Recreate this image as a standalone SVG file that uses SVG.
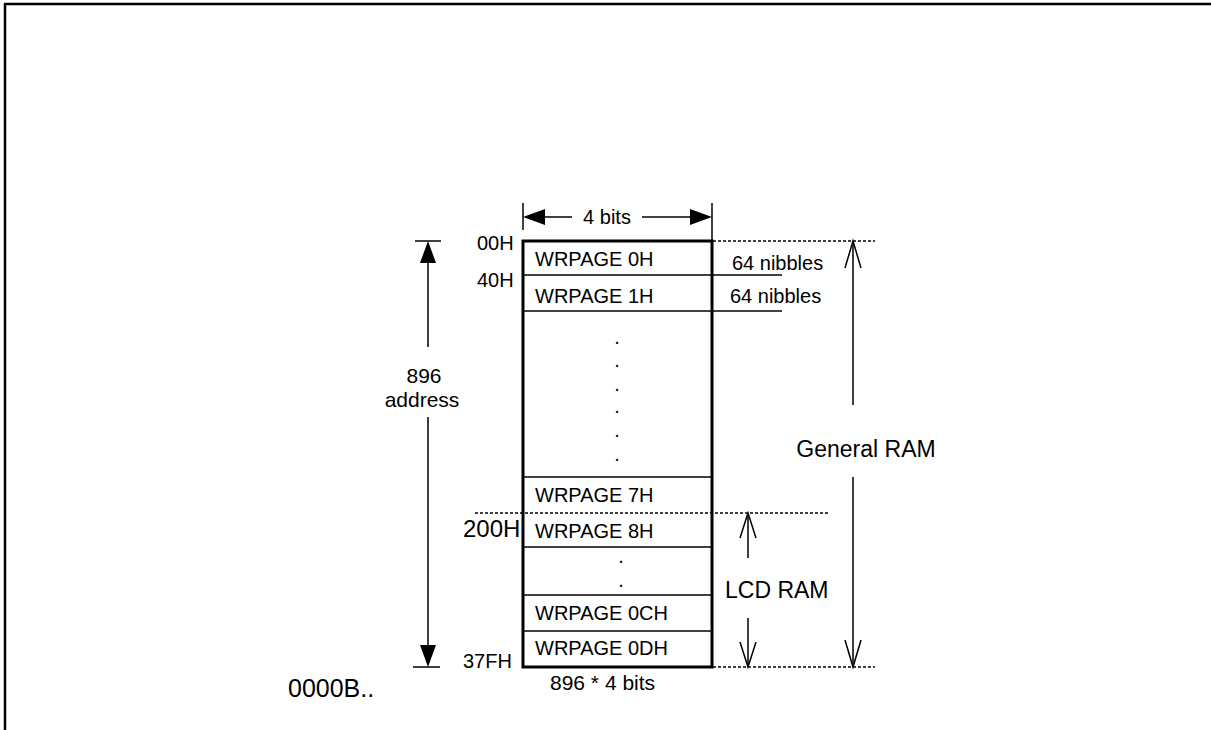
<svg xmlns="http://www.w3.org/2000/svg" width="1211" height="730" viewBox="0 0 1211 730">
<style>
text{font-family:"Liberation Sans",Arial,sans-serif;fill:#000}
.s{stroke:#000;fill:none;stroke-width:1.5}
.d{stroke:#000;fill:none;stroke-width:1.5;stroke-dasharray:3,2}
.f{fill:#000;stroke:none}
.t20{font-size:20px}
.t23{font-size:23px}
.dot{font-size:20px;text-anchor:middle}
</style>
<rect width="1211" height="730" fill="#fff"/>
<g id="frame">
<line x1="4" y1="4" x2="1211" y2="4" stroke="#000" stroke-width="2.5"/>
<line x1="5" y1="3" x2="5" y2="730" stroke="#000" stroke-width="2.5"/>
</g>
<g id="memory">
<rect x="523" y="241" width="189" height="426" fill="none" stroke="#000" stroke-width="3"/>
<line class="s" x1="523" y1="275" x2="782" y2="275"/>
<line class="s" x1="523" y1="311" x2="782" y2="311"/>
<line class="s" x1="523" y1="477" x2="712" y2="477"/>
<line class="s" x1="523" y1="547" x2="712" y2="547"/>
<line class="s" x1="523" y1="595" x2="712" y2="595"/>
<line class="s" x1="523" y1="631" x2="712" y2="631"/>
<text class="t20" x="535" y="266">WRPAGE 0H</text>
<text class="t20" x="535" y="303">WRPAGE 1H</text>
<text class="t20" x="535" y="502">WRPAGE 7H</text>
<text class="t20" x="535" y="538">WRPAGE 8H</text>
<text class="t20" x="535" y="620">WRPAGE 0CH</text>
<text class="t20" x="535" y="655">WRPAGE 0DH</text>
<text class="dot" x="617" y="344">.</text>
<text class="dot" x="617" y="367">.</text>
<text class="dot" x="617" y="391">.</text>
<text class="dot" x="617" y="413">.</text>
<text class="dot" x="617" y="437">.</text>
<text class="dot" x="617" y="461">.</text>
<text class="dot" x="621" y="563">.</text>
<text class="dot" x="621" y="587">.</text>
</g>
<g id="addresses">
<text class="t20" x="477" y="250">00H</text>
<text class="t20" x="477" y="287">40H</text>
<text x="463" y="537" font-size="24px">200H</text>
<text class="t20" x="463" y="668">37FH</text>
</g>
<g id="labels">
<text class="t20" x="732" y="270">64 nibbles</text>
<text class="t20" x="730" y="303">64 nibbles</text>
<text class="t23" x="866" y="457" text-anchor="middle">General RAM</text>
<text class="t23" x="725" y="598">LCD RAM</text>
<text x="424" y="383" font-size="21px" text-anchor="middle">896</text>
<text x="422" y="407" font-size="21px" text-anchor="middle">address</text>
<text x="550" y="690" font-size="21px">896 * 4 bits</text>
<text x="288" y="697" font-size="25px">0000B..</text>
<text class="t20" x="607" y="224" text-anchor="middle">4 bits</text>
</g>
<g id="connectors">
<line class="d" x1="713" y1="241" x2="875" y2="241"/>
<line class="d" x1="713" y1="667" x2="875" y2="667"/>
<line class="d" x1="475" y1="513" x2="830" y2="513"/>
<line class="s" x1="523" y1="203" x2="523" y2="230"/>
<line class="s" x1="712" y1="203" x2="712" y2="241"/>
<polygon class="f" points="523,217 545,209 545,225"/>
<polygon class="f" points="712,217 690,209 690,225"/>
<line class="s" x1="545" y1="217" x2="572" y2="217"/>
<line class="s" x1="642" y1="217" x2="690" y2="217"/>
<line class="s" x1="415" y1="241" x2="441" y2="241"/>
<polygon class="f" points="428,241 420,263 436,263"/>
<line class="s" x1="428" y1="263" x2="428" y2="347"/>
<line class="s" x1="428" y1="417" x2="428" y2="645"/>
<polygon class="f" points="428,667 420,645 436,645"/>
<line class="s" x1="413" y1="667" x2="440" y2="667"/>
<line class="s" x1="853" y1="241" x2="853" y2="405"/>
<line class="s" x1="853" y1="477" x2="853" y2="667"/>
<polyline class="s" points="845,268 853,241 861,268"/>
<polyline class="s" points="845,640 853,667 861,640"/>
<line class="s" x1="748" y1="513" x2="748" y2="558"/>
<line class="s" x1="748" y1="618" x2="748" y2="667"/>
<polyline class="s" points="740,538 748,513 756,538"/>
<polyline class="s" points="740,642 748,667 756,642"/>
</g>
</svg>
